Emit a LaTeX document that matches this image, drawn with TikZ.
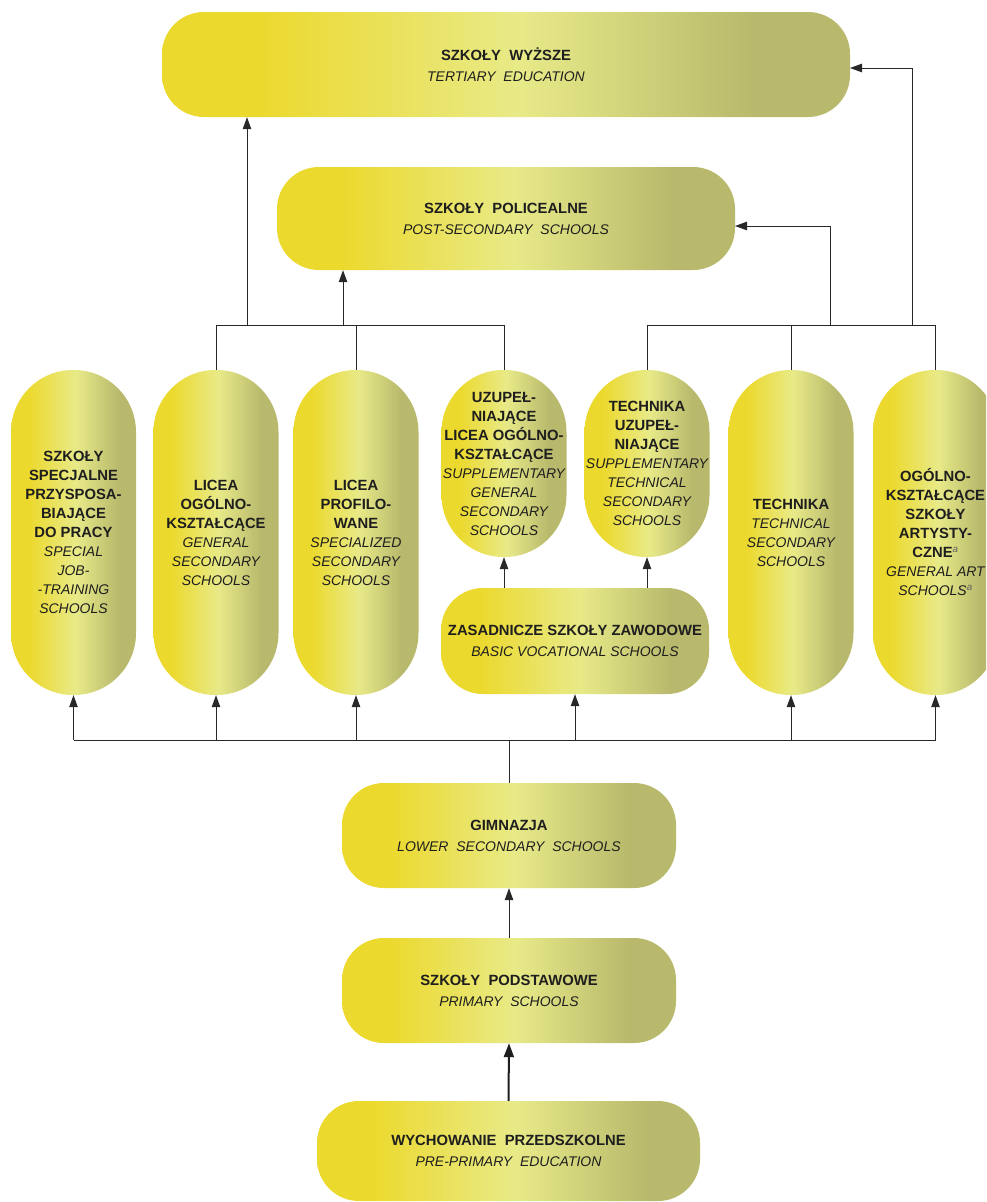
\documentclass[tikz,border=0pt]{standalone}
\usepackage{fontspec}
\setmainfont{Liberation Sans}
\usetikzlibrary{arrows.meta,calc}
\definecolor{gA}{RGB}{236,217,45}
\definecolor{gB}{RGB}{232,234,136}
\definecolor{gC}{RGB}{184,185,108}
\definecolor{ink}{RGB}{30,30,30}
\definecolor{wire}{RGB}{40,40,40}
\pgfdeclarehorizontalshading{pill}{100bp}{color(0bp)=(gA); color(32bp)=(gA); color(51bp)=(gB); color(68bp)=(gC); color(100bp)=(gC)}
\newcommand\Bt[1]{{\fontsize{14.8}{19}\selectfont\bfseries #1}}
\newcommand\It[1]{{\fontsize{14}{19}\selectfont\itshape #1}}
\newcommand\supa{\textsuperscript{\itshape\color{ink!70}a}}
\begin{document}
\begin{tikzpicture}[x=1pt,y=-1pt,
  pillbase/.style={shade, shading=pill, draw=none, inner sep=0pt, align=center, text=ink},
  tall/.style={pillbase, rounded corners=62pt, minimum width=125pt, minimum height=325pt, font=\fontsize{14}{19}\selectfont},
  wide/.style={pillbase, rounded corners=42pt, font=\fontsize{14}{21}\selectfont},
  wire/.style={draw=wire, line width=0.9pt},
  arr/.style={wire, -{Triangle[length=12pt,width=8.5pt]}},
  thickarr/.style={draw=ink, line width=2pt, -{Triangle[length=14pt,width=10pt]}}]
\clip (0,0) rectangle (986,1202);

% top level boxes
\node[wide, minimum width=688pt, minimum height=105pt] (tert) at (506,64.5)
  {\Bt{SZKOŁY\ \ WYŻSZE}\\ \It{TERTIARY\ \ EDUCATION}};
\node[wide, minimum width=458pt, minimum height=103pt] (post) at (506,218.5)
  {\Bt{SZKOŁY\ \ POLICEALNE}\\ \It{POST-SECONDARY\ \ SCHOOLS}};

% tall boxes
\node[tall] (b1) at (73.5,532.5)
  {\Bt{SZKOŁY}\\ \Bt{SPECJALNE}\\ \Bt{PRZYSPOSA-}\\ \Bt{BIAJĄCE}\\ \Bt{DO PRACY}\\ \It{SPECIAL}\\ \It{JOB-}\\ \It{-TRAINING}\\ \It{SCHOOLS}};
\node[tall] (b2) at (216,532.5)
  {\Bt{LICEA}\\ \Bt{OGÓLNO-}\\ \Bt{KSZTAŁCĄCE}\\ \It{GENERAL}\\ \It{SECONDARY}\\ \It{SCHOOLS}};
\node[tall] (b3) at (356,532.5)
  {\Bt{LICEA}\\ \Bt{PROFILO-}\\ \Bt{WANE}\\ \It{SPECIALIZED}\\ \It{SECONDARY}\\ \It{SCHOOLS}};
\node[tall, minimum height=187pt] (b4) at (504,463.5)
  {\Bt{UZUPEŁ-}\\ \Bt{NIAJĄCE}\\ \Bt{LICEA OGÓLNO-}\\ \Bt{KSZTAŁCĄCE}\\ \It{SUPPLEMENTARY}\\ \It{GENERAL}\\ \It{SECONDARY}\\ \It{SCHOOLS}};
\node[tall, minimum height=187pt] (b5) at (647,463.5)
  {\Bt{TECHNIKA}\\ \Bt{UZUPEŁ-}\\ \Bt{NIAJĄCE}\\ \It{SUPPLEMENTARY}\\ \It{TECHNICAL}\\ \It{SECONDARY}\\ \It{SCHOOLS}};
\node[tall] (b6) at (791,532.5)
  {\Bt{TECHNIKA}\\ \It{TECHNICAL}\\ \It{SECONDARY}\\ \It{SCHOOLS}};
\node[tall] (b7) at (935.5,532.5)
  {\Bt{OGÓLNO-}\\ \Bt{KSZTAŁCĄCE}\\ \Bt{SZKOŁY}\\ \Bt{ARTYSTY-}\\ \Bt{CZNE}\supa\\ \It{GENERAL ART}\\ \It{SCHOOLS}\supa};

\node[wide, minimum width=268pt, minimum height=106pt] (zas) at (575,641)
  {\Bt{ZASADNICZE SZKOŁY ZAWODOWE}\\ \It{BASIC VOCATIONAL SCHOOLS}};

% lower boxes
\node[wide, minimum width=334pt, minimum height=105pt] (gim) at (509,835.5)
  {\Bt{GIMNAZJA}\\ \It{LOWER\ \ SECONDARY\ \ SCHOOLS}};
\node[wide, minimum width=334pt, minimum height=105pt] (pod) at (509,990.5)
  {\Bt{SZKOŁY\ \ PODSTAWOWE}\\ \It{PRIMARY\ \ SCHOOLS}};
\node[wide, minimum width=383pt, minimum height=100pt] (wych) at (508.5,1151)
  {\Bt{WYCHOWANIE\ \ PRZEDSZKOLNE}\\ \It{PRE-PRIMARY\ \ EDUCATION}};

% bus levels
\coordinate (yTop) at (0,325);
\coordinate (yBot) at (0,740);
\coordinate (lt1) at (247,325);
\coordinate (lt2) at (343,325);
\coordinate (rt1) at (830,325);
\coordinate (rt2) at (912,325);
\coordinate (postIn) at (735,226);
\coordinate (tertIn) at (850,68);

% left upper bus
\draw[wire] (b2.north) -- (b2.north |- yTop) -- (b4.north |- yTop) -- (b4.north);
\draw[wire] (b3.north) -- (b3.north |- yTop);
\draw[arr] (lt1) -- (lt1 |- tert.south);
\draw[arr] (lt2) -- (lt2 |- post.south);

% right upper bus
\draw[wire] (b5.north) -- (b5.north |- yTop) -- (b7.north |- yTop) -- (b7.north);
\draw[wire] (b6.north) -- (b6.north |- yTop);
\draw[arr] (rt1) |- (postIn);
\draw[arr] (rt2) |- (tertIn);

% vocational to supplementary
\draw[arr] (b4.south |- zas.north) -- (b4.south);
\draw[arr] (b5.south |- zas.north) -- (b5.south);

% lower bus
\draw[wire] (b1.south |- yBot) -- (b7.south |- yBot);
\draw[wire] (gim.north) -- (gim.north |- yBot);
\foreach \b in {b1,b2,b3,zas,b6,b7}
  \draw[arr] (\b.south |- yBot) -- (\b.south);

% bottom chain
\draw[arr] (pod.north) -- (gim.south);
\draw[thickarr] (wych.north) -- (pod.south);
\end{tikzpicture}
\end{document}
